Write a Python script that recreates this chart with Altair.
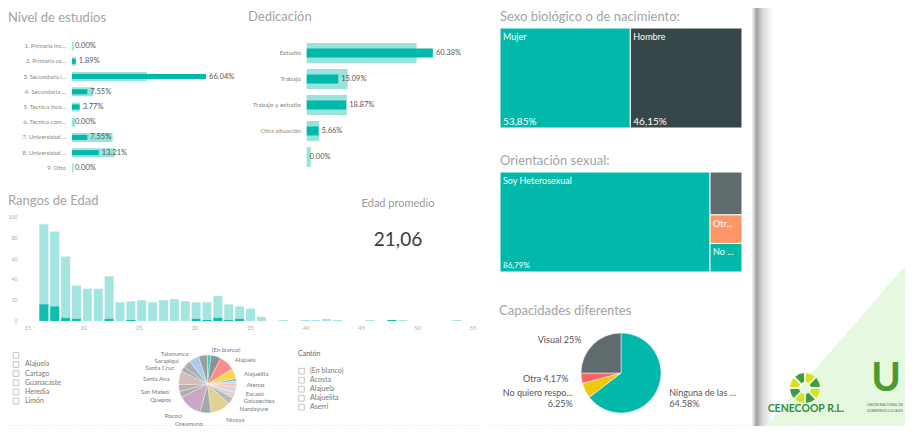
import altair as alt
import pandas as pd
import numpy as np

# ---------------- data ----------------
nivel_cats = ["1. Primaria inc...", "2. Primaria co...", "3. Secundaria i...", "4. Secundaria ...",
              "5. Tecnica inco...", "6. Tecnica com...", "7. Universidad  ...", "8. Universidad ...", "9. Otro"]
nivel_pct = [0.00, 1.89, 66.04, 7.55, 3.77, 0.00, 7.55, 13.21, 0.00]
nivel_base = [0.8, 1.9, 37.0, 10.5, 3.8, 1.5, 20.0, 21.0, 0.8]

dedic_cats = ["Estudio", "Trabajo", "Trabajo y estudio", "Otra situación", " "]
dedic_pct = [60.38, 15.09, 18.87, 5.66, 0.00]
dedic_base = [52.6, 19.6, 19.2, 6.0, 2.0]

sexo_cats = ["Mujer", "Hombre"]
sexo_pct = [53.85, 46.15]

orient_cats = ["Soy Heterosexual", "Soy Bisexual", "Otra", "No quiero responder"]
orient_short = ["Soy Heterosexual", "", "Otr...", "No ..."]
orient_pct = [86.79, 5.66, 3.77, 3.77]

capac_cats = ["Ninguna de las anteriores", "No quiero responder", "Otra", "Visual"]
capac_labels = ["Ninguna de las ...\n64.58%", "No quiero respo...\n6.25%", "Otra 4,17%", "Visual 25%"]
capac_pct = [64.58, 6.25, 4.17, 25.00]

edad_ages = list(range(16, 55))
edad_total = [93, 86, 62, 34, 31, 31, 43, 18, 19, 20, 18, 20, 21, 19, 18, 18, 24, 16, 14, 12,
              4, 0, 1, 0, 1, 1, 2, 1, 0, 0, 1, 0, 1, 1, 0, 0, 0, 0, 1]
edad_sel = [16, 14, 3, 2, 0, 0, 2, 0, 1, 0, 0, 0, 0, 0, 2, 1, 3, 1, 2, 0,
            0, 0, 0, 0, 0, 0, 0, 0, 0, 0, 0, 0, 1, 0, 0, 0, 0, 0, 0]
edad_xticks = [15, 20, 25, 30, 35, 40, 45, 50, 55]
edad_yticks = [0, 20, 40, 60, 80, 100]
edad_prom = "21,06"

prov_items = ["", "Alajuela", "Cartago", "Guanacaste", "Heredia", "Limón"]
canton_items = ["(En blanco)", "Acosta", "Alajuela", "Alajuelita", "Aserrí"]

canton_names = ["(En blanco)", "Acosta", "Alajuela", "Alajuelita", "Aserrí", "Atenas", "Barva", "Escazú",
                "Goicoechea", "Nandayure", "Nicoya", "Oreamuno", "Pococí", "Quepos", "San Mateo",
                "Santa Ana", "Santa Cruz", "Sarapiquí", "Talamanca", "Tarrazú"]
canton_vals = [7, 20, 32, 20, 5, 6, 5, 12, 12, 14, 40, 22, 48, 12, 14, 28, 9, 16, 20, 18]
canton_show = [1, 0, 1, 1, 0, 1, 0, 1, 1, 1, 1, 1, 1, 1, 1, 1, 1, 1, 1, 0]
canton_cols = ["#01B8AA", "#5F6B6D", "#FD625E", "#F2C80F", "#7F898A", "#8AD4EB", "#FE9666", "#C8C8C8",
               "#DFBFBF", "#9AA3A4", "#D9BE6A", "#7F898A", "#B687AC", "#8A9394", "#A78F8F",
               "#C4A49C", "#7F898A", "#8A9394", "#8AB8E6", "#6F7B7D"]

# ---------------- layout helpers ----------------
FONT = "Lato"
OFF = 8
W, H = 897, 418
TEAL = "#01B8AA"
TITLE = "#a3a3a3"


def lin(d0, d1, p0, p1):
    return alt.Scale(domain=[d0, d1], range=[p0 - OFF, p1 - OFF])


def V(v):
    return alt.value(v - OFF)


def txt(s, x, y, size, color, align="left", weight="normal", baseline="middle"):
    return alt.Chart(pd.DataFrame({"t": [s]})).mark_text(
        align=align, baseline=baseline, fontSize=size, color=color, font=FONT, fontWeight=weight
    ).encode(x=V(x), y=V(y), text="t:N")


layers = []

# background decorations: shadow + green triangle
layers.append(
    alt.Chart(pd.DataFrame({"a": [0]})).mark_rect(
        color=alt.LinearGradient(gradient="linear", x1=0, x2=1, y1=0, y2=0, stops=[
            alt.GradientStop(color="#f4f4f4", offset=0),
            alt.GradientStop(color="#a0a0a0", offset=0.22),
            alt.GradientStop(color="#d8d8d8", offset=0.5),
            alt.GradientStop(color="#ffffff", offset=1)])
    ).encode(x=V(752), x2=V(773), y=alt.value(0), y2=alt.value(H))
)
layers.append(
    alt.Chart(pd.DataFrame({"a": [0]})).mark_rect(
        color=alt.LinearGradient(gradient="linear", x1=0, x2=1, y1=0, y2=1, stops=[
            alt.GradientStop(color="rgba(229,248,222,0)", offset=0),
            alt.GradientStop(color="rgba(229,248,222,0)", offset=0.5),
            alt.GradientStop(color="#e6f9e0", offset=0.5),
            alt.GradientStop(color="#e6f9e0", offset=1)])
    ).encode(x=V(766), x2=V(905), y=V(266), y2=V(426))
)

# titles
layers += [
    txt("Nivel de estudios", 8, 18, 13, TITLE),
    txt("Dedicación", 248, 17, 13, TITLE),
    txt("Sexo biológico o de nacimiento:", 500, 17, 13, TITLE),
    txt("Orientación sexual:", 500, 161, 13, TITLE),
    txt("Capacidades diferentes", 499, 311, 13, TITLE),
    txt("Rangos de Edad", 8, 201, 13, TITLE),
    txt("Edad promedio", 398, 204, 11, "#9a9a9a", align="center"),
    txt(edad_prom, 398, 240, 19, "#3a3a3a", align="center"),
]

# ---- Nivel de estudios ----
nivel_df = pd.DataFrame({"cat": nivel_cats, "pct": nivel_pct, "base": nivel_base,
                         "lab": [f"{v:.2f}%" for v in nivel_pct]})
ny = alt.Y("cat:N", scale=alt.Scale(domain=nivel_cats, range=[38.5 - OFF, 175.5 - OFF],
                                   paddingInner=0, paddingOuter=0), axis=None)
nxs = lin(0, 100, 72, 275)
layers += [
    alt.Chart(nivel_df).mark_bar(height=9, color=TEAL, opacity=0.4).encode(
        x=alt.X("base:Q", scale=nxs, axis=None), y=ny),
    alt.Chart(nivel_df).mark_bar(height=5, color=TEAL).encode(
        x=alt.X("pct:Q", scale=nxs, axis=None), y=ny),
    alt.Chart(nivel_df).mark_text(align="left", dx=3, fontSize=7.5, color="#555", font=FONT).encode(
        x=alt.X("pct:Q", scale=nxs, axis=None), y=ny, text="lab:N"),
    alt.Chart(nivel_df).mark_text(align="right", fontSize=6, color="#888", font=FONT).encode(
        x=V(66), y=ny, text="cat:N"),
]

# ---- Dedicación ----
dedic_df = pd.DataFrame({"cat": dedic_cats, "pct": dedic_pct, "base": dedic_base,
                         "lab": [f"{v:.2f}%" for v in dedic_pct]})
dy_ = alt.Y("cat:N", scale=alt.Scale(domain=dedic_cats, range=[40 - OFF, 170 - OFF],
                                    paddingInner=0, paddingOuter=0), axis=None)
dxs = lin(0, 100, 306.7, 515.7)
layers += [
    alt.Chart(dedic_df).mark_bar(height=20, color=TEAL, opacity=0.4).encode(
        x=alt.X("base:Q", scale=dxs, axis=None), y=dy_),
    alt.Chart(dedic_df).mark_bar(height=9, color=TEAL).encode(
        x=alt.X("pct:Q", scale=dxs, axis=None), y=dy_),
    alt.Chart(dedic_df).mark_text(align="left", dx=3, fontSize=7.5, color="#555", font=FONT).encode(
        x=alt.X("pct:Q", scale=dxs, axis=None), y=dy_, text="lab:N"),
    alt.Chart(dedic_df).mark_text(align="right", fontSize=6.5, color="#888", font=FONT).encode(
        x=V(301), y=dy_, text="cat:N"),
]

# ---- Sexo treemap ----
s_pct = np.array(sexo_pct)
sexo_df = pd.DataFrame({"cat": sexo_cats, "x0": np.cumsum(s_pct) - s_pct, "x1": np.cumsum(s_pct),
                        "y0": 0.0, "y1": 100.0,
                        "lab": [f"{v:.2f}%".replace(".", ",") for v in sexo_pct]})
ssx, ssy = lin(0, 100, 500, 742), lin(0, 100, 28, 128)
layers += [
    alt.Chart(sexo_df).mark_rect(stroke="white", strokeWidth=1).encode(
        x=alt.X("x0:Q", scale=ssx, axis=None), x2="x1:Q",
        y=alt.Y("y0:Q", scale=ssy, axis=None), y2="y1:Q",
        color=alt.Color("cat:N", scale=alt.Scale(domain=sexo_cats, range=[TEAL, "#374649"]), legend=None)),
    alt.Chart(sexo_df).mark_text(align="left", baseline="top", dx=3, dy=5, fontSize=9, color="white", font=FONT).encode(
        x=alt.X("x0:Q", scale=ssx, axis=None), y=alt.Y("y0:Q", scale=ssy, axis=None), text="cat:N"),
    alt.Chart(sexo_df).mark_text(align="left", baseline="alphabetic", dx=3, dy=-3, fontSize=10, color="white", font=FONT).encode(
        x=alt.X("x0:Q", scale=ssx, axis=None), y=alt.Y("y1:Q", scale=ssy, axis=None), text="lab:N"),
]

# ---- Orientación treemap (first item full height, rest stacked in a column) ----
o_pct = np.array(orient_pct)
rest = o_pct[1:]
rest_cum = np.cumsum(rest)
ox0 = [0.0] + [o_pct[0]] * len(rest)
ox1 = [o_pct[0]] + [100.0] * len(rest)
oy0 = [0.0] + list((rest_cum - rest) / rest.sum() * 100)
oy1 = [100.0] + list(rest_cum / rest.sum() * 100)
orient_df = pd.DataFrame({"cat": orient_cats, "short": orient_short, "x0": ox0, "x1": ox1, "y0": oy0, "y1": oy1,
                          "lab": [f"{orient_pct[0]:.2f}%".replace(".", ",")] + [""] * len(rest)})
osx, osy = lin(0, 100, 500, 742), lin(0, 100, 172, 272)
layers += [
    alt.Chart(orient_df).mark_rect(stroke="white", strokeWidth=1).encode(
        x=alt.X("x0:Q", scale=osx, axis=None), x2="x1:Q",
        y=alt.Y("y0:Q", scale=osy, axis=None), y2="y1:Q",
        color=alt.Color("cat:N", scale=alt.Scale(domain=orient_cats,
                                                 range=[TEAL, "#5F6B6D", "#FE9666", TEAL]), legend=None)),
    alt.Chart(orient_df).mark_text(align="left", baseline="top", dx=3, dy=5, fontSize=9, color="white", font=FONT).encode(
        x=alt.X("x0:Q", scale=osx, axis=None), y=alt.Y("y0:Q", scale=osy, axis=None), text="short:N"),
    alt.Chart(orient_df).mark_text(align="left", baseline="alphabetic", dx=3, dy=-4, fontSize=8, color="white", font=FONT).encode(
        x=alt.X("x0:Q", scale=osx, axis=None), y=alt.Y("y1:Q", scale=osy, axis=None), text="lab:N"),
]

# ---- Capacidades pie ----
c_pct = np.array(capac_pct)
c_tot = float(c_pct.sum())
capac_df = pd.DataFrame({"cat": capac_cats, "lab": capac_labels,
                         "start": np.cumsum(c_pct) - c_pct, "end": np.cumsum(c_pct)})
capac_df["mid"] = (capac_df["start"] + capac_df["end"]) / 2
capac_df["side"] = np.where(capac_df["mid"] > c_tot / 2, "L", "R")
cth = alt.Scale(domain=[0, c_tot])
layers.append(
    alt.Chart(capac_df).mark_arc(outerRadius=40, stroke="white", strokeWidth=0.5).encode(
        theta=alt.Theta("start:Q", scale=cth, stack=None), theta2="end:Q",
        color=alt.Color("cat:N", scale=alt.Scale(domain=capac_cats,
                                                 range=[TEAL, "#F2C80F", "#FD625E", "#5F6B6D"]), legend=None),
        x=V(621), y=V(373))
)
for side, al, dx in [("L", "right", -7), ("R", "left", 7)]:
    layers.append(
        alt.Chart(capac_df).transform_filter(alt.datum.side == side).mark_text(
            radius=46, align=al, dx=dx, fontSize=9, color="#555", font=FONT, lineBreak="\n").encode(
            theta=alt.Theta("mid:Q", scale=cth, stack=None), text="lab:N", x=V(621), y=V(373))
    )

# ---- Rangos de Edad ----
edad_df = pd.DataFrame({"edad": edad_ages, "total": edad_total, "sel": edad_sel})
exs, eys = lin(15, 55, 28, 473), lin(0, 100, 321, 217)
layers += [
    alt.Chart(edad_df).mark_bar(width=9, color=TEAL, opacity=0.36).encode(
        x=alt.X("edad:Q", scale=exs, axis=None), y=alt.Y("total:Q", scale=eys, axis=None)),
    alt.Chart(edad_df).mark_bar(width=9, color=TEAL, opacity=0.9).encode(
        x=alt.X("edad:Q", scale=exs, axis=None), y=alt.Y("sel:Q", scale=eys, axis=None)),
    alt.Chart(pd.DataFrame({"v": edad_xticks})).mark_text(fontSize=5.5, color="#aaa", font=FONT).encode(
        x=alt.X("v:Q", scale=exs, axis=None), y=V(328), text="v:N"),
    alt.Chart(pd.DataFrame({"v": edad_yticks})).mark_text(align="right", fontSize=5, color="#aaa", font=FONT).encode(
        y=alt.Y("v:Q", scale=eys, axis=None), x=V(17.5), text="v:N"),
]

# ---- Provincia slicer ----
prov_df = pd.DataFrame({"item": prov_items})
psy = alt.Y("item:N", scale=alt.Scale(type="point", domain=prov_items, range=[350.7 - OFF, 405.7 - OFF]), axis=None)
layers += [
    alt.Chart(prov_df).mark_square(size=32, filled=False, stroke="#9a9a9a", strokeWidth=0.8).encode(x=V(16), y=psy),
    alt.Chart(prov_df).mark_text(align="left", fontSize=7, color="#777", font=FONT).encode(x=V(25), y=psy, text="item:N"),
]

# ---- Cantón slicer ----
cant_df = pd.DataFrame({"item": canton_items})
csy = alt.Y("item:N", scale=alt.Scale(type="point", domain=canton_items, range=[366.7 - OFF, 411.7 - OFF]), axis=None)
layers += [
    txt("Cantón", 298, 354, 7, "#666"),
    alt.Chart(cant_df).mark_square(size=32, filled=False, stroke="#9a9a9a", strokeWidth=0.8).encode(x=V(301.5), y=csy),
    alt.Chart(cant_df).mark_text(align="left", fontSize=7, color="#777", font=FONT).encode(x=V(310), y=csy, text="item:N"),
]

# ---- Cantón pie ----
k_vals = np.array(canton_vals, dtype=float)
k_tot = float(k_vals.sum())
kp_df = pd.DataFrame({"name": canton_names, "start": np.cumsum(k_vals) - k_vals, "end": np.cumsum(k_vals),
                      "show": canton_show})
kp_df["mid"] = (kp_df["start"] + kp_df["end"]) / 2
kp_df["side"] = np.where(kp_df["mid"] > k_tot / 2, "L", "R")
kth = alt.Scale(domain=[0, k_tot])
layers.append(
    alt.Chart(kp_df).mark_arc(outerRadius=29, stroke="white", strokeWidth=0.4, opacity=0.72).encode(
        theta=alt.Theta("start:Q", scale=kth, stack=None), theta2="end:Q",
        color=alt.Color("name:N", scale=alt.Scale(domain=canton_names, range=canton_cols), legend=None),
        x=V(207.5), y=V(384))
)
for side, al, dx in [("L", "right", -2), ("R", "left", 2)]:
    layers.append(
        alt.Chart(kp_df).transform_filter((alt.datum.side == side) & (alt.datum.show == 1)).mark_text(
            radius=37, align=al, dx=dx, fontSize=6, color="#777", font=FONT).encode(
            theta=alt.Theta("mid:Q", scale=kth, stack=None), text="name:N", x=V(207.5), y=V(387))
    )

# ---- separators ----
layers += [
    alt.Chart(pd.DataFrame({"a": [0]})).mark_rule(color="#cfcfcf", strokeDash=[1, 2], strokeWidth=1).encode(
        x=V(8), x2=V(482), y=V(426)),
    alt.Chart(pd.DataFrame({"a": [0]})).mark_rule(color="#cfcfcf", strokeDash=[1, 2], strokeWidth=1).encode(
        x=V(492), x2=V(748), y=V(426)),
]

# ---- logos ----
logo_df = pd.DataFrame({"seg": list(range(8)), "c": ["y", "g"] * 4})
logo_df["start"] = logo_df["seg"]
logo_df["end"] = logo_df["seg"] + 1
layers += [
    alt.Chart(logo_df).mark_arc(innerRadius=6, outerRadius=15, padAngle=0.12).encode(
        theta=alt.Theta("start:Q", scale=alt.Scale(domain=[0, 8]), stack=None), theta2="end:Q",
        color=alt.Color("c:N", scale=alt.Scale(domain=["y", "g"], range=["#d6e21c", "#3c9e3c"]), legend=None),
        x=V(805), y=V(388)),
    txt("CENECOOP R.L.", 806, 409, 10.5, "#2f8f3a", align="center", weight="bold"),
    txt("U", 886, 379, 40, "#4a9a32", align="center", weight="bold"),
    txt("UNIÓN NACIONAL DE", 885, 405, 3.5, "#666", align="center"),
    txt("GOBIERNOS LOCALES", 885, 411, 3.5, "#666", align="center"),
]

chart = alt.layer(*layers).resolve_scale(
    x="independent", y="independent", color="independent", theta="independent"
).properties(
    width=W, height=H, padding=0, autosize=alt.AutoSizeParams(type="none")
).configure_view(stroke=None).configure_text(font=FONT)

chart.save("out.html", embed_options={"renderer": "svg", "actions": False})
